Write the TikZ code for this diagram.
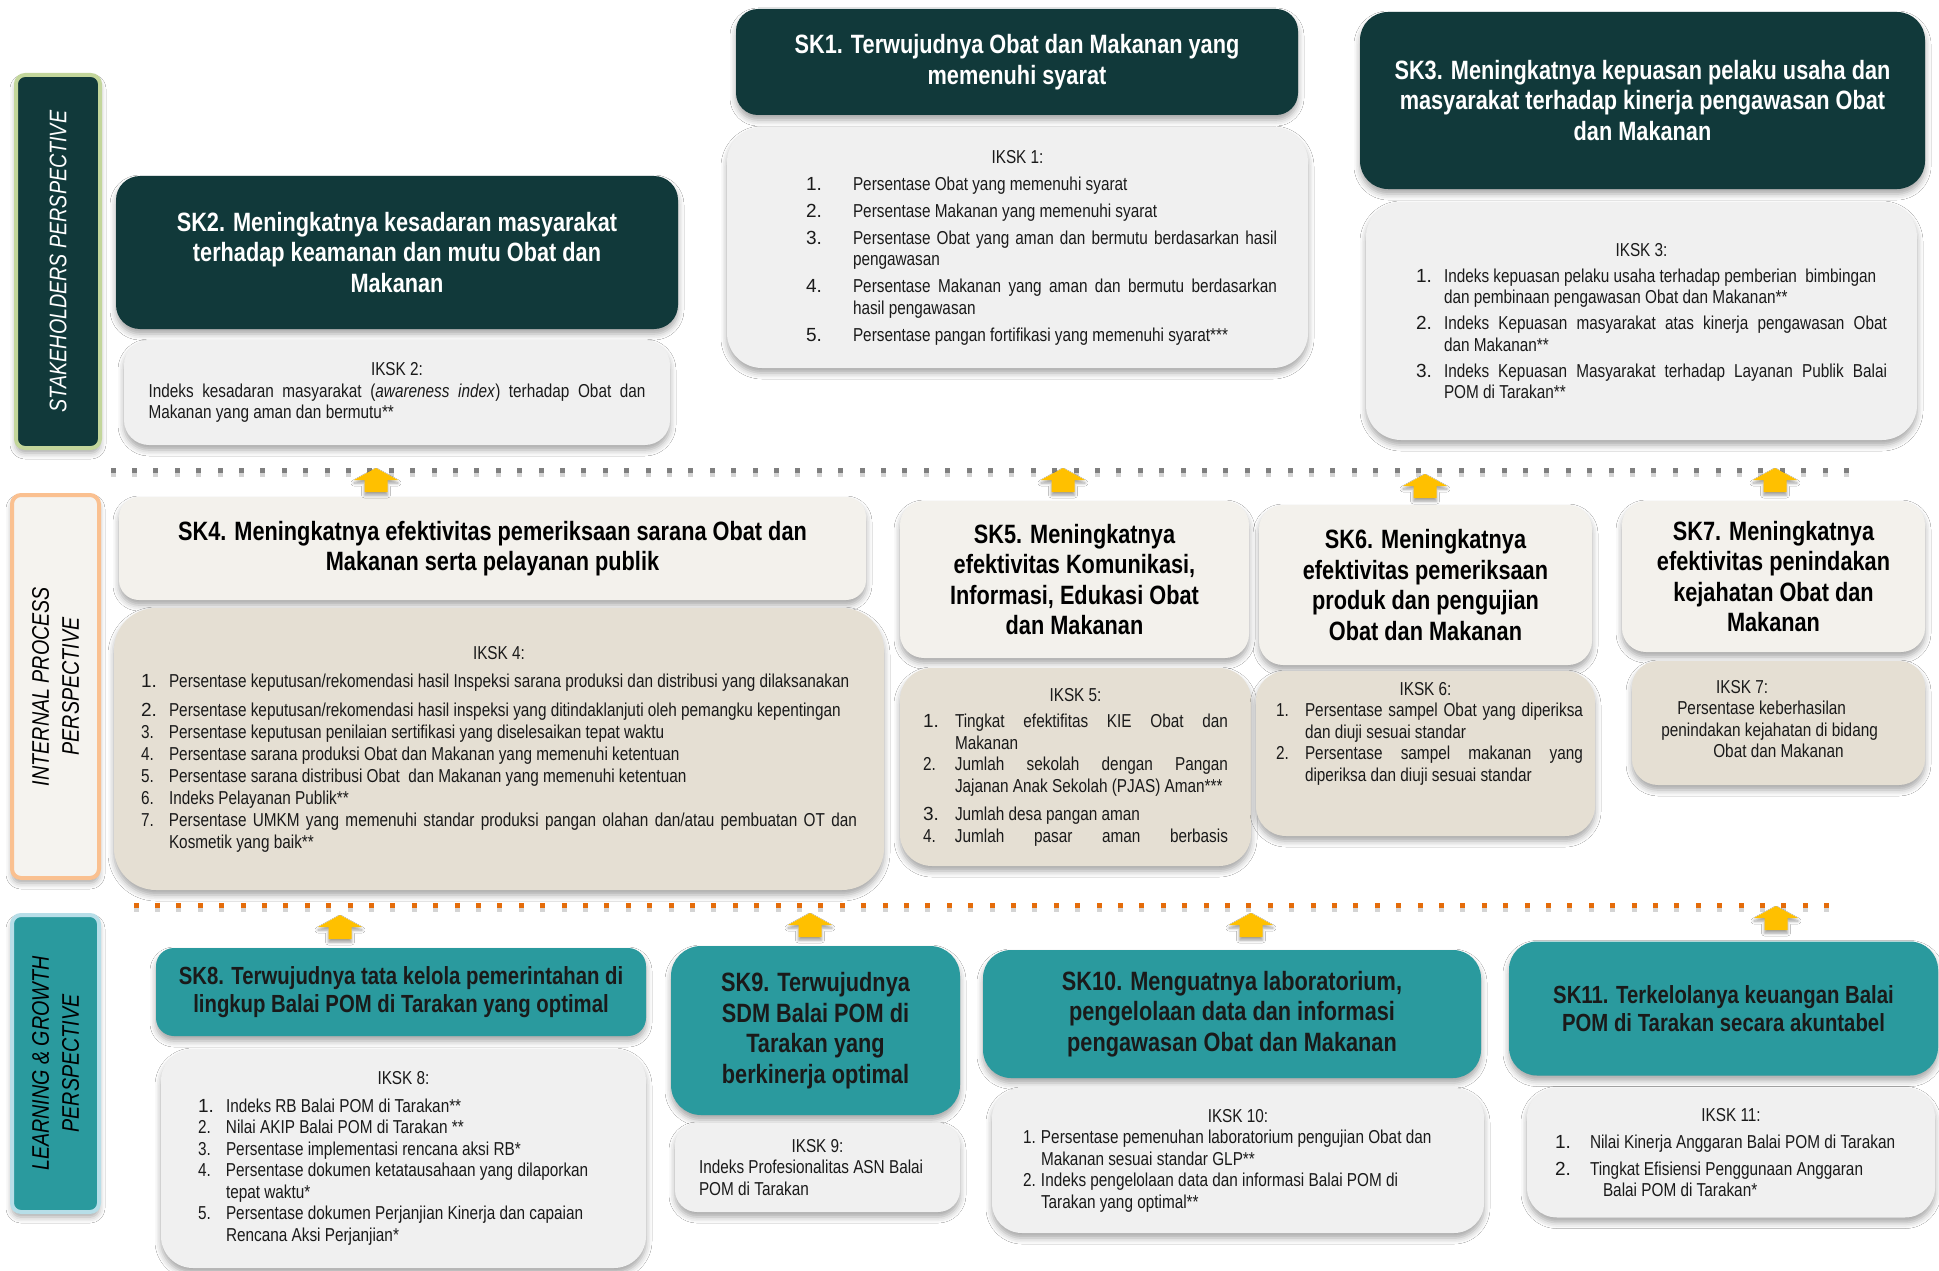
\documentclass[tikz,border=0pt]{standalone}
\usepackage{fontspec}
\setmainfont{Liberation Sans}
\newfontfamily\nar{Liberation Sans}[FakeStretch=0.82]
\newfontfamily\narb{Liberation Sans}[FakeStretch=0.82]
\usetikzlibrary{shadows.blur}

\definecolor{skdark}{HTML}{11393A}
\definecolor{skteal}{HTML}{2A9A9E}
\definecolor{boxgray}{HTML}{F0F0F0}
\definecolor{boxwarm}{HTML}{F3F1EC}
\definecolor{boxbeige}{HTML}{E5DFD3}
\definecolor{arrowc}{HTML}{FFC000}
\definecolor{dotgray}{HTML}{7F7F7F}
\definecolor{dotorange}{HTML}{E46C0A}
\definecolor{dotshadow}{HTML}{D4D4D4}
\definecolor{barlime}{HTML}{C3D69B}
\definecolor{barpeach}{HTML}{FAC090}
\definecolor{barblue}{HTML}{B7DEE8}
\definecolor{barlight}{HTML}{F5F3EF}
\definecolor{txtdark}{HTML}{1A1A1A}

\newcommand\itm[4]{{\leftskip=#1pt\relax\hangindent=#2pt\relax\hangafter=1\noindent\makebox[#2pt][l]{#3}#4\par}}
\newcommand\hd[1]{{\centering #1\par}}
\newcommand\bnum[1]{{\rmfamily\fontsize{19}{21}\selectfont #1}}
\newcommand\justi{\leftskip=0pt\rightskip=0pt\parfillskip=0pt plus 1fil\relax}
\newcommand\ragr{\rightskip=0pt plus 1fil\relax}

\tikzset{
  hshadow/.style={blur shadow={shadow xshift=0pt,shadow yshift=-5pt,shadow blur radius=6pt,shadow opacity=35}},
  headbox/.style={rectangle, inner sep=0pt, align=center, hshadow,
    font=\nar\bfseries\fontsize{26.5}{30.5}\selectfont},
  darkhead/.style={headbox, fill=skdark, text=white},
  warmhead/.style={headbox, fill=boxwarm, text=black},
  tealhead/.style={headbox, fill=skteal, text=txtdark},
  listbox/.style={rectangle, inner sep=0pt, hshadow, text=txtdark,
    font=\narb\fontsize{18.7}{21.5}\selectfont,
    execute at begin node={\parindent=0pt\hyphenpenalty=10000\exhyphenpenalty=10000\tolerance=10000\spaceskip=4.26pt plus 8pt minus 0.6pt\relax}},
  graylist/.style={listbox, fill=boxgray},
  beigelist/.style={listbox, fill=boxbeige},
  sidebar/.style={rectangle, rounded corners=9pt, line width=4pt, inner sep=0pt, rotate=90, hshadow,
    align=center, font=\nar\itshape\fontsize{24}{30}\selectfont},
  uparr/.pic={\fill[arrowc, blur shadow={shadow xshift=0pt,shadow yshift=-3pt,shadow blur radius=3pt,shadow opacity=40}]
    (-11.5,24) -- (-11.5,12) -- (-22,12) -- (0,0) -- (22,12) -- (11.5,12) -- (11.5,24) -- cycle;}
}

\begin{document}
\begin{tikzpicture}[x=1pt,y=-1pt]
\fill[white] (0,0) rectangle (1939,1271);
\useasboundingbox (0,0) rectangle (1939,1271);

% dotted separators
\foreach \i in {0,...,81}{
  \fill[dotshadow] ({113+21.4*\i-2.5},470.5) rectangle ++(5,6);
  \fill[dotgray] ({113+21.4*\i-2.5},467.5) rectangle ++(5,5);}
\foreach \i in {0,...,79}{
  \fill[dotshadow] ({136+21.4*\i-2.5},905.5) rectangle ++(5,6);
  \fill[dotorange] ({136+21.4*\i-2.5},902.5) rectangle ++(5,5);}

% perspective bars
\node[sidebar, fill=skdark, draw=barlime, text=white, minimum width=373, minimum height=84] (stake) at (58,261.5) {STAKEHOLDERS PERSPECTIVE};
\node[sidebar, fill=barlight, draw=barpeach, text=black, minimum width=383, minimum height=87] (internal) at (55.5,686.5) {INTERNAL PROCESS\\PERSPECTIVE};
\node[sidebar, fill=skteal, draw=barblue, text=black, minimum width=297, minimum height=87] (learning) at (55.5,1063.5) {LEARNING \& GROWTH\\PERSPECTIVE};

% ---------- stakeholders ----------
\node[darkhead, rounded corners=22pt, minimum width=562, minimum height=106] (sk1) at (1017,62) {SK1. Terwujudnya Obat dan Makanan yang\\memenuhi syarat};
\node[graylist, rounded corners=35pt, minimum width=581, minimum height=241, text width=519] (iksk1) at (1017.5,247.5) {\justi\parskip=5.5pt
\hd{IKSK 1:}
\itm{48}{47}{\bnum{1.}}{Persentase Obat yang memenuhi syarat}
\itm{48}{47}{\bnum{2.}}{Persentase Makanan yang memenuhi syarat}
\itm{48}{47}{\bnum{3.}}{Persentase Obat yang aman dan bermutu berdasarkan hasil\linebreak pengawasan}
\itm{48}{47}{\bnum{4.}}{Persentase Makanan yang aman dan bermutu berdasarkan\linebreak hasil pengawasan}
\itm{48}{47}{\bnum{5.}}{Persentase pangan fortifikasi yang memenuhi syarat***}};

\node[darkhead, rounded corners=24pt, minimum width=562, minimum height=153] (sk2) at (397,252.5) {SK2. Meningkatnya kesadaran masyarakat\\terhadap keamanan dan mutu Obat dan\\Makanan};
\node[graylist, rounded corners=25pt, minimum width=546, minimum height=105, text width=497] (iksk2) at (397,392.5) {\justi
\hd{IKSK 2:}
Indeks kesadaran masyarakat (\textit{awareness index}) terhadap Obat dan\linebreak Makanan yang aman dan bermutu**\par};

\node[darkhead, rounded corners=28pt, minimum width=565, minimum height=177] (sk3) at (1642.5,100.5) {SK3. Meningkatnya kepuasan pelaku usaha dan\\masyarakat terhadap kinerja pengawasan Obat\\dan Makanan};
\node[graylist, rounded corners=35pt, minimum width=551, minimum height=238, text width=491] (iksk3) at (1641.5,321) {\justi\parskip=4.5pt
\hd{IKSK 3:}
\itm{20}{28}{\bnum{1.}}{Indeks kepuasan pelaku usaha terhadap pemberian\ \ bimbingan\newline dan pembinaan pengawasan Obat dan Makanan**}
\itm{20}{28}{\bnum{2.}}{Indeks Kepuasan masyarakat atas kinerja pengawasan Obat\linebreak dan Makanan**}
\itm{20}{28}{\bnum{3.}}{Indeks Kepuasan Masyarakat terhadap Layanan Publik Balai\linebreak POM di Tarakan**}};

% ---------- internal process ----------
\node[warmhead, rounded corners=20pt, minimum width=747, minimum height=103] (sk4) at (492.5,548.5) {SK4. Meningkatnya efektivitas pemeriksaan sarana Obat dan\\Makanan serta pelayanan publik};
\node[beigelist, rounded corners=42pt, minimum width=770, minimum height=282, text width=716] (iksk4) at (499,749) {\justi\parskip=0.5pt
\hd{IKSK 4:}\vspace{6pt}
\itm{0}{28}{\bnum{1.}}{Persentase keputusan/rekomendasi hasil Inspeksi sarana produksi dan distribusi yang dilaksanakan}\vspace{7.5pt}
\itm{0}{28}{\bnum{2.}}{Persentase keputusan/rekomendasi hasil inspeksi yang ditindaklanjuti oleh pemangku kepentingan}
\itm{0}{28}{3.}{Persentase keputusan penilaian sertifikasi yang diselesaikan tepat waktu}
\itm{0}{28}{4.}{Persentase sarana produksi Obat dan Makanan yang memenuhi ketentuan}
\itm{0}{28}{5.}{Persentase sarana distribusi Obat\ \ dan Makanan yang memenuhi ketentuan}
\itm{0}{28}{6.}{Indeks Pelayanan Publik**}
\itm{0}{28}{7.}{Persentase UMKM yang memenuhi standar produksi pangan olahan dan/atau pembuatan OT dan\linebreak Kosmetik yang baik**}};

\node[warmhead, rounded corners=24pt, minimum width=349, minimum height=157] (sk5) at (1074.5,579.5) {SK5. Meningkatnya\\efektivitas Komunikasi,\\Informasi, Edukasi Obat\\dan Makanan};
\node[beigelist, rounded corners=32pt, minimum width=351, minimum height=198, text width=305] (iksk5) at (1075.5,767) {\justi
\hd{IKSK 5:}\vspace{5pt}
\itm{0}{32}{\bnum{1.}}{Tingkat efektifitas KIE Obat dan\linebreak Makanan}
\itm{0}{32}{2.}{Jumlah sekolah dengan Pangan\linebreak Jajanan Anak Sekolah (PJAS) Aman***}\vspace{7pt}
\itm{0}{32}{\bnum{3.}}{Jumlah desa pangan aman}
\itm{0}{32}{4.}{\parfillskip=0pt Jumlah\hfill pasar\hfill aman\hfill berbasis}};

\node[warmhead, rounded corners=24pt, minimum width=333, minimum height=160] (sk6) at (1425.5,585) {SK6. Meningkatnya\\efektivitas pemeriksaan\\produk dan pengujian\\Obat dan Makanan};
\node[beigelist, rounded corners=30pt, minimum width=339, minimum height=165, text width=315] (iksk6) at (1425.5,753.5) {\justi
\hd{IKSK 6:}
\itm{8}{29}{1.}{Persentase sampel Obat yang diperiksa\linebreak dan diuji sesuai standar}
\itm{8}{29}{2.}{Persentase sampel makanan yang\linebreak diperiksa dan diuji sesuai standar\rule[-44pt]{0pt}{44pt}}};

\node[warmhead, rounded corners=24pt, minimum width=303, minimum height=151] (sk7) at (1773.5,576.5) {SK7. Meningkatnya\\efektivitas penindakan\\kejahatan Obat dan\\Makanan};
\node[beigelist, rounded corners=26pt, minimum width=293, minimum height=124, text width=270] (iksk7) at (1778.5,723) {\centering IKSK 7:\newline Persentase keberhasilan\newline penindakan kejahatan di bidang\newline Obat dan Makanan\rule[-8pt]{0pt}{8pt}\par};

% ---------- learning & growth ----------
\node[tealhead, rounded corners=18pt, minimum width=490, minimum height=88, font=\nar\bfseries\fontsize{24.8}{28.5}\selectfont] (sk8) at (401,992) {SK8. Terwujudnya tata kelola pemerintahan di\\lingkup Balai POM di Tarakan yang optimal};
\node[graylist, rounded corners=32pt, minimum width=485, minimum height=219, text width=411] (iksk8) at (403.5,1158.5) {\ragr
\hd{IKSK 8:}\vspace{6pt}
\itm{0}{28}{\bnum{1.}}{Indeks RB Balai POM di Tarakan**}
\itm{0}{28}{2.}{Nilai AKIP Balai POM di Tarakan **}
\itm{0}{28}{3.}{Persentase implementasi rencana aksi RB*}
\itm{0}{28}{4.}{Persentase dokumen ketatausahaan yang dilaporkan\newline tepat waktu*}
\itm{0}{28}{5.}{Persentase dokumen Perjanjian Kinerja dan capaian\newline Rencana Aksi Perjanjian*}};

\node[tealhead, rounded corners=30pt, minimum width=289, minimum height=169] (sk9) at (815.5,1030.5) {SK9. Terwujudnya\\SDM Balai POM di\\Tarakan yang\\berkinerja optimal};
\node[graylist, rounded corners=22pt, minimum width=285, minimum height=89, text width=237] (iksk9) at (817.5,1167.5) {\ragr
\hd{IKSK 9:}
Indeks Profesionalitas ASN Balai\newline POM di Tarakan\par};

\node[tealhead, rounded corners=28pt, minimum width=498, minimum height=128] (sk10) at (1232,1014) {SK10. Menguatnya laboratorium,\\pengelolaan data dan informasi\\pengawasan Obat dan Makanan};
\node[graylist, rounded corners=30pt, minimum width=492, minimum height=145, text width=430] (iksk10) at (1238,1160.5) {\ragr
\hd{IKSK 10:}
\itm{0}{18}{1.}{Persentase pemenuhan laboratorium pengujian Obat dan\newline Makanan sesuai standar GLP**}
\itm{0}{18}{2.}{Indeks pengelolaan data dan informasi Balai POM di\newline Tarakan yang optimal**}};

\node[tealhead, rounded corners=28pt, minimum width=429, minimum height=134, font=\nar\bfseries\fontsize{24.8}{28.5}\selectfont] (sk11) at (1723.5,1008.5) {SK11. Terkelolanya keuangan Balai\\POM di Tarakan secara akuntabel};
\node[graylist, rounded corners=30pt, minimum width=408, minimum height=130, text width=352] (iksk11) at (1731,1152.5) {\ragr\parskip=5.5pt
\hd{IKSK 11:}
\itm{0}{35}{\bnum{1.}}{Nilai Kinerja Anggaran Balai POM di Tarakan}
\itm{0}{35}{\bnum{2.}}{Tingkat Efisiensi Penggunaan Anggaran\newline\hspace*{13pt}Balai POM di Tarakan*}};

% ---------- arrows ----------
\pic at (376,468) {uparr};
\pic at (1063,468) {uparr};
\pic at (1425,474) {uparr};
\pic at (1775,468) {uparr};
\pic at (340,915) {uparr};
\pic at (810,913) {uparr};
\pic at (1251,913) {uparr};
\pic at (1776,906) {uparr};
\end{tikzpicture}
\end{document}
